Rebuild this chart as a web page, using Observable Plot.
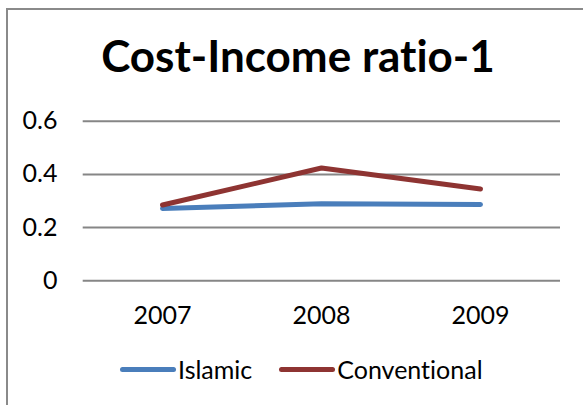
<!DOCTYPE html>
<html>
<head>
<meta charset="utf-8">
<script src="https://cdn.jsdelivr.net/npm/d3@7"></script>
<script src="https://cdn.jsdelivr.net/npm/@observablehq/plot@0.6"></script>
<style>
  html, body { margin: 0; padding: 0; background: #fff; }
  body { width: 583px; height: 405px; overflow: hidden; position: relative; font-family: Lato, "Open Sans", sans-serif; font-variant-ligatures: none; }
  #frame { position: absolute; left: 6px; top: 8px; width: 640px; height: 440px; border: 2px solid #8a8a8a; box-sizing: border-box; }
  #title { position: absolute; left: 0; width: 596px; top: 33px; text-align: center; font-weight: bold; font-size: 44px; line-height: 1; color: #000; }
  #chart { position: absolute; left: 0; top: 100px; }
  #legend { position: absolute; left: 120px; top: 357px; display: flex; align-items: center; font-size: 25px; line-height: 1; color: #000; }
  .item { display: flex; align-items: center; margin-right: 27px; }
  .sw { width: 56px; height: 5px; border-radius: 3px; margin-right: 2px; }
</style>
</head>
<body>
<div id="frame"></div>
<div id="title">Cost-Income ratio-1</div>
<div id="chart"></div>
<div id="legend"></div>
<script>
const years = ["2007", "2008", "2009"];
const islamic = [0.272, 0.29, 0.287];
const conventional = [0.285, 0.424, 0.345];
const seriesNames = ["Islamic", "Conventional"];
const seriesColors = ["#4a7ebb", "#8e3432"];
const yTicks = [0, 0.2, 0.4, 0.6];

const data = [];
years.forEach((y, i) => data.push({year: y, value: islamic[i], series: seriesNames[0]}));
years.forEach((y, i) => data.push({year: y, value: conventional[i], series: seriesNames[1]}));

const chart = Plot.plot({
  width: 583,
  height: 235,
  marginTop: 20.7,
  marginBottom: 54.7,
  marginLeft: 82.7,
  marginRight: 23,
  style: {fontFamily: "Lato, 'Open Sans', sans-serif", background: "transparent", color: "#000"},
  x: {type: "point", domain: years, padding: 0.5},
  y: {domain: [0, 0.6]},
  color: {domain: seriesNames, range: seriesColors},
  marks: [
    Plot.ruleY(yTicks, {stroke: "#868686", strokeWidth: 2}),
    Plot.axisY({ticks: yTicks, tickSize: 0, tickPadding: 25.7, fontSize: 25, label: null, tickFormat: d => String(d)}),
    Plot.axisX({tickSize: 0, tickPadding: 25, fontSize: 25, label: null}),
    Plot.line(data, {x: "year", y: "value", z: "series", stroke: "series", strokeWidth: 5, strokeLinecap: "round", strokeLinejoin: "round"})
  ]
});
document.getElementById("chart").appendChild(chart);

const legend = document.getElementById("legend");
seriesNames.forEach((name, i) => {
  const item = document.createElement("div");
  item.className = "item";
  const sw = document.createElement("span");
  sw.className = "sw";
  sw.style.background = seriesColors[i];
  const t = document.createElement("span");
  t.textContent = name;
  item.appendChild(sw);
  item.appendChild(t);
  legend.appendChild(item);
});
</script>
</body>
</html>
